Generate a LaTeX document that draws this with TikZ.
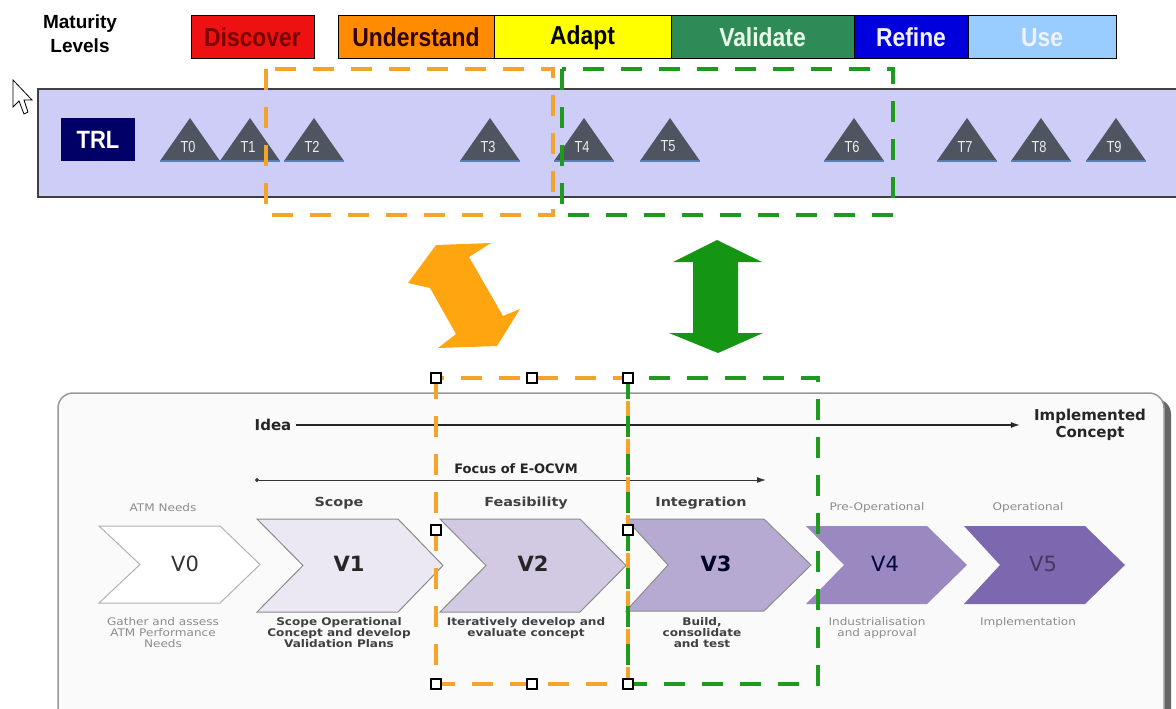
\documentclass[tikz,border=0pt]{standalone}
\usepackage{fontspec}
\setmainfont{Liberation Sans}
\newfontfamily\boxfont{Liberation Sans}[FakeStretch=0.88]
\newfontfamily\trifont{Liberation Sans}[FakeStretch=0.8]
\newfontfamily\dvfont{DejaVu Sans}
\newfontfamily\dvwide{DejaVu Sans}[FakeStretch=1.15]
\usetikzlibrary{arrows.meta}
\definecolor{cRed}{HTML}{EE1111}
\definecolor{cRedTxt}{HTML}{7A0000}
\definecolor{cOrange}{HTML}{FF8C00}
\definecolor{cYellow}{HTML}{FFFF00}
\definecolor{cGreenBox}{HTML}{2E8B57}
\definecolor{cBlue}{HTML}{0000DD}
\definecolor{cLightBlue}{HTML}{99CCFF}
\definecolor{cBand}{HTML}{CDCDF8}
\definecolor{cNavy}{HTML}{000066}
\definecolor{cTri}{HTML}{4F5560}
\definecolor{cTriBase}{HTML}{5B7DB0}
\definecolor{cDashO}{HTML}{F4A42A}
\definecolor{cDashG}{HTML}{1E9A1E}
\definecolor{cArrO}{HTML}{FFA510}
\definecolor{cArrG}{HTML}{149614}
\definecolor{cPanel}{HTML}{FAFAFA}
\definecolor{cV0}{HTML}{FFFFFF}
\definecolor{cV1}{HTML}{ECE8F3}
\definecolor{cV2}{HTML}{D2CAE2}
\definecolor{cV3}{HTML}{B6AAD3}
\definecolor{cV4}{HTML}{9A89C1}
\definecolor{cV5}{HTML}{7B68AE}
\begin{document}
\begin{tikzpicture}[x=1pt,y=-1pt,
  lvl/.style={draw=black, line width=1pt, inner sep=0pt, minimum height=43pt,
    font=\boxfont\bfseries\fontsize{26}{28}\selectfont},
  trlbox/.style={fill=cNavy, inner sep=0pt, minimum width=74pt, minimum height=43pt,
    text=white, font=\boxfont\bfseries\fontsize{25}{28}\selectfont},
  trilabel/.style={text=white!92!black, font=\trifont\fontsize{16}{17}\selectfont, inner sep=0pt},
  tri/.style={fill=cTri},
  tribase/.style={draw=cTriBase, line width=2pt},
  odash/.style={draw=cDashO, line width=4pt, dash pattern=on 21pt off 17pt},
  gdash/.style={draw=cDashG, line width=4pt, dash pattern=on 21pt off 17pt},
  handle/.style={draw=black, fill=white, line width=1.2pt, minimum size=10pt, inner sep=0pt},
  chev/.style={draw=black!45, line width=1pt},
  vlab/.style={font=\dvfont\fontsize{21}{24}\selectfont, inner sep=0pt},
  vlabb/.style={font=\dvfont\bfseries\fontsize{21}{24}\selectfont, inner sep=0pt},
  toplight/.style={font=\dvwide\fontsize{10.5}{12}\selectfont, text=black!45, inner sep=0pt},
  topbold/.style={font=\dvwide\bfseries\fontsize{12.5}{15}\selectfont, text=black!75, inner sep=0pt},
  desclight/.style={font=\dvwide\fontsize{10.5}{10.7}\selectfont, text=black!45, align=center, inner sep=0pt},
  descbold/.style={font=\dvwide\bfseries\fontsize{10.5}{10.7}\selectfont, text=black!75, align=center, inner sep=0pt},
  heading/.style={font=\dvfont\bfseries\fontsize{15}{17}\selectfont, text=black!85, inner sep=0pt, align=center}
]
\useasboundingbox (0,0) rectangle (1176,709);
\fill[white] (0,0) rectangle (1176,709);

% ---------- Maturity levels ----------
\node[align=center, inner sep=0pt, font=\bfseries\fontsize{19}{24}\selectfont] (mat) at (80,34) {Maturity\\Levels};
\node[lvl, fill=cRed, text=cRedTxt, minimum width=123pt] (discover) at (252.5,37.5) {Discover};
\node[lvl, fill=cOrange, text=black!80!red, minimum width=156pt] (understand) at (416,37.5) {Understand};
\node[lvl, fill=cYellow, text=black, minimum width=177pt] (adapt) at (582.5,37.5) {Adapt};
\node[lvl, fill=cGreenBox, text=green!8, minimum width=183pt] (validate) at (762.5,37.5) {Validate};
\node[lvl, fill=cBlue, text=blue!6, minimum width=114pt] (refine) at (911,37.5) {Refine};
\node[lvl, fill=cLightBlue, text=blue!5, minimum width=148pt] (use) at (1042,37.5) {Use};

% ---------- mouse cursor ----------
\draw[fill=white, line width=0.8pt, line join=miter] (13,80) -- (13,107) -- (19,101) -- (24,114) -- (28,112) -- (24,100) -- (32,100) -- cycle;

% ---------- TRL band ----------
\draw[fill=cBand, draw=black!75, line width=1.5pt] (38,89) rectangle (1185,197);
\node[trlbox] (trl) at (98,139.5) {TRL};
\foreach \x/\t in {190/T0,250/T1,314/T2,490/T3,584/T4,670/T5,854/T6,967/T7,1041/T8,1116/T9}{
  \fill[tri] (\x,118) -- (\x+30,161) -- (\x-30,161) -- cycle;
  \draw[tribase] (\x-30,161) -- (\x+30,161);
  \node[trilabel] (lab\t) at (\x-2,146.5) {\t};
}

% ---------- top dashed boxes ----------
\draw[odash] (266,69) rectangle (553,215);
\draw[gdash] (562,69) rectangle (893,215);

% ---------- double arrows ----------
\fill[cArrO] (408,283) -- (436,245) -- (491,243) -- (469,257) -- (503,316) -- (520,309)
  -- (497,346) -- (438,348) -- (456,334) -- (430,288) -- cycle;
\fill[cArrG] (717,240) -- (762,262) -- (738,262) -- (738,333) -- (763,333) -- (718,353)
  -- (669,333) -- (693,333) -- (693,262) -- (673,262) -- cycle;

% ---------- bottom panel ----------
\fill[black!60, rounded corners=15pt] (64,399) rectangle (1171,740);
\draw[fill=cPanel, draw=black!40, line width=1.5pt, rounded corners=15pt] (58,393) rectangle (1164,740);

\node[heading] (idea) at (273,425) {Idea};
\node[heading] (impl) at (1090,425) {Implemented\\Concept};
\draw[black!85, line width=1.2pt, -{Latex[length=9pt,width=6pt]}, shorten <=4pt, shorten >=14pt] (idea.east) -- (impl.west);

\node[font=\dvfont\bfseries\fontsize{13}{15}\selectfont, text=black!85, inner sep=0pt] (focus) at (516,469) {Focus of E-OCVM};
\coordinate (fl) at (255,480);
\coordinate (fr) at (766,480);
\draw[black!80, line width=1pt, {Circle[length=4pt]}-{Latex[length=9pt,width=6pt]}] (fl) -- (fr);

% chevrons
\newcommand{\chevpath}[7]{\path[#7] (#1,#5) -- (#2,#5) -- (#3,{(#5+#6)/2}) -- (#2,#6) -- (#1,#6) -- (#4,{(#5+#6)/2}) -- cycle;}
\chevpath{99}{220}{260}{140}{526}{603}{chev, draw=black!30, fill=cV0}
\chevpath{257}{398}{443}{303}{519}{612}{chev, fill=cV1}
\chevpath{440}{580}{626}{486}{519}{612}{chev, fill=cV2}
\chevpath{626}{764}{811}{668}{519}{611}{chev, fill=cV3}
\chevpath{806}{927}{967}{844}{526}{604}{fill=cV4}
\chevpath{964}{1085}{1125}{1000}{526}{604}{fill=cV5}

\node[vlab, text=black!80] (v0) at (185,564) {V0};
\node[vlabb, text=black!85] (v1) at (349,564) {V1};
\node[vlabb, text=black!85] (v2) at (533,564) {V2};
\node[vlabb, text=black!85!blue] (v3) at (716,564) {V3};
\node[vlab, text=black!75!blue] (v4) at (885,564) {V4};
\node[vlab, text=cV5!55!black] (v5) at (1043,564) {V5};

\node[toplight] (atm) at (163,508) {ATM Needs};
\node[topbold] (scope) at (339,503) {Scope};
\node[topbold] (feas) at (526,503) {Feasibility};
\node[topbold] (integ) at (701,503) {Integration};
\node[toplight] (preop) at (877,508) {Pre-Operational};
\node[toplight] (oper) at (1028,508) {Operational};

\node[desclight, anchor=north] (d0) at (163,617.5) {Gather and assess\\ATM Performance\\Needs};
\node[descbold, anchor=north] (d1) at (339,617.5) {Scope Operational\\Concept and develop\\Validation Plans};
\node[descbold, anchor=north] (d2) at (526,617.5) {Iteratively develop and\\evaluate concept};
\node[descbold, anchor=north] (d3) at (702,617.5) {Build,\\consolidate\\and test};
\node[desclight, anchor=north] (d4) at (877,617.5) {Industrialisation\\and approval};
\node[desclight, anchor=north] (d5) at (1028,617.5) {Implementation};

% ---------- bottom dashed boxes ----------
\draw[odash] (436,378) rectangle (628,684);
\draw[gdash] (628,378) rectangle (818,684);
\foreach \p [count=\i] in {(436,378),(532,378),(628,378),(436,530),(628,530),(436,684),(532,684),(628,684)}{
  \node[handle] (h\i) at \p {};
}
\end{tikzpicture}
\end{document}
